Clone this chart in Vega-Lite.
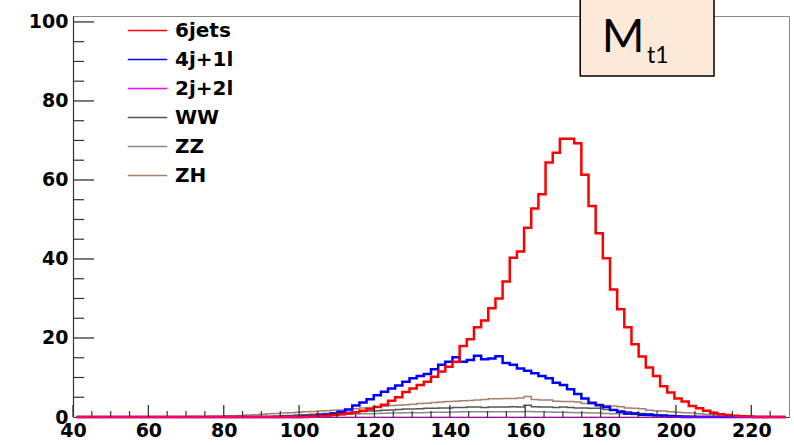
{
"$schema":"https://vega.github.io/schema/vega-lite/v6.json",
"width":716,"height":401,
"autosize":"none",
"padding":{"left":73,"top":16,"right":5,"bottom":28},
"background":"white",
"config":{"view":{"stroke":"#888","strokeWidth":1},"axis":{"grid":false}},
"data":{"values":[
{"x":40.95,"6jets":0,"4j+1l":0,"2j+2l":0,"WW":0,"ZZ":0,"ZH":0},
{"x":42.85,"6jets":0,"4j+1l":0,"2j+2l":0,"WW":0,"ZZ":0,"ZH":0},
{"x":44.75,"6jets":0,"4j+1l":0,"2j+2l":0,"WW":0,"ZZ":0,"ZH":0},
{"x":46.65,"6jets":0,"4j+1l":0,"2j+2l":0,"WW":0,"ZZ":0,"ZH":0},
{"x":48.55,"6jets":0,"4j+1l":0,"2j+2l":0,"WW":0,"ZZ":0,"ZH":0},
{"x":50.45,"6jets":0,"4j+1l":0,"2j+2l":0,"WW":0,"ZZ":0,"ZH":0},
{"x":52.35,"6jets":0,"4j+1l":0,"2j+2l":0,"WW":0,"ZZ":0,"ZH":0},
{"x":54.25,"6jets":0,"4j+1l":0,"2j+2l":0,"WW":0,"ZZ":0,"ZH":0},
{"x":56.15,"6jets":0,"4j+1l":0,"2j+2l":0,"WW":0,"ZZ":0,"ZH":0},
{"x":58.05,"6jets":0,"4j+1l":0,"2j+2l":0,"WW":0,"ZZ":0,"ZH":0},
{"x":59.95,"6jets":0,"4j+1l":0,"2j+2l":0,"WW":0,"ZZ":0,"ZH":0},
{"x":61.85,"6jets":0,"4j+1l":0,"2j+2l":0,"WW":0,"ZZ":0,"ZH":0},
{"x":63.75,"6jets":0,"4j+1l":0,"2j+2l":0,"WW":0,"ZZ":0,"ZH":0},
{"x":65.65,"6jets":0,"4j+1l":0,"2j+2l":0,"WW":0,"ZZ":0,"ZH":0},
{"x":67.55,"6jets":0,"4j+1l":0,"2j+2l":0,"WW":0,"ZZ":0,"ZH":0},
{"x":69.45,"6jets":0,"4j+1l":0,"2j+2l":0,"WW":0,"ZZ":0,"ZH":0},
{"x":71.35,"6jets":0,"4j+1l":0,"2j+2l":0,"WW":0,"ZZ":0,"ZH":0.1},
{"x":73.25,"6jets":0,"4j+1l":0,"2j+2l":0,"WW":0,"ZZ":0,"ZH":0.1},
{"x":75.15,"6jets":0,"4j+1l":0,"2j+2l":0,"WW":0,"ZZ":0,"ZH":0.15},
{"x":77.05,"6jets":0,"4j+1l":0,"2j+2l":0,"WW":0,"ZZ":0,"ZH":0.2},
{"x":78.95,"6jets":0,"4j+1l":0,"2j+2l":0,"WW":0,"ZZ":0,"ZH":0.2},
{"x":80.85,"6jets":0,"4j+1l":0,"2j+2l":0,"WW":0,"ZZ":0,"ZH":0.3},
{"x":82.75,"6jets":0,"4j+1l":0,"2j+2l":0,"WW":0,"ZZ":0,"ZH":0.3},
{"x":84.65,"6jets":0,"4j+1l":0,"2j+2l":0,"WW":0,"ZZ":0,"ZH":0.4},
{"x":86.55,"6jets":0,"4j+1l":0,"2j+2l":0,"WW":0,"ZZ":0,"ZH":0.5},
{"x":88.45,"6jets":0,"4j+1l":0,"2j+2l":0,"WW":0,"ZZ":0,"ZH":0.6},
{"x":90.35,"6jets":0,"4j+1l":0,"2j+2l":0,"WW":0.1,"ZZ":0,"ZH":0.7},
{"x":92.25,"6jets":0,"4j+1l":0,"2j+2l":0,"WW":0.15,"ZZ":0,"ZH":0.8},
{"x":94.15,"6jets":0,"4j+1l":0,"2j+2l":0,"WW":0.2,"ZZ":0.1,"ZH":0.9},
{"x":96.05,"6jets":0,"4j+1l":0,"2j+2l":0,"WW":0.3,"ZZ":0.15,"ZH":1.0},
{"x":97.95,"6jets":0,"4j+1l":0,"2j+2l":0,"WW":0.4,"ZZ":0.2,"ZH":1.1},
{"x":99.85,"6jets":0,"4j+1l":0,"2j+2l":0,"WW":0.5,"ZZ":0.25,"ZH":1.2},
{"x":101.75,"6jets":0,"4j+1l":0.1,"2j+2l":0,"WW":0.6,"ZZ":0.3,"ZH":1.3},
{"x":103.65,"6jets":0.1,"4j+1l":0.2,"2j+2l":0,"WW":0.7,"ZZ":0.35,"ZH":1.4},
{"x":105.55,"6jets":0.2,"4j+1l":0.4,"2j+2l":0,"WW":0.8,"ZZ":0.4,"ZH":1.5},
{"x":107.45,"6jets":0.3,"4j+1l":0.6,"2j+2l":0,"WW":0.9,"ZZ":0.5,"ZH":1.6},
{"x":109.35,"6jets":0.5,"4j+1l":0.9,"2j+2l":0,"WW":1.0,"ZZ":0.55,"ZH":1.7},
{"x":111.25,"6jets":0.7,"4j+1l":1.3,"2j+2l":0,"WW":1.1,"ZZ":0.6,"ZH":1.8},
{"x":113.15,"6jets":0.9,"4j+1l":1.9,"2j+2l":0,"WW":1.2,"ZZ":0.7,"ZH":1.9},
{"x":115.05,"6jets":1.2,"4j+1l":2.9,"2j+2l":0,"WW":1.3,"ZZ":0.75,"ZH":2.1},
{"x":116.95,"6jets":1.6,"4j+1l":3.7,"2j+2l":0,"WW":1.4,"ZZ":0.8,"ZH":2.3},
{"x":118.85,"6jets":2.0,"4j+1l":4.5,"2j+2l":0,"WW":1.5,"ZZ":0.85,"ZH":2.4},
{"x":120.75,"6jets":2.5,"4j+1l":5.5,"2j+2l":0,"WW":1.6,"ZZ":0.9,"ZH":2.6},
{"x":122.65,"6jets":3.1,"4j+1l":6.4,"2j+2l":0,"WW":1.7,"ZZ":0.95,"ZH":2.7},
{"x":124.55,"6jets":4.1,"4j+1l":7.2,"2j+2l":0,"WW":1.8,"ZZ":1.0,"ZH":2.9},
{"x":126.45,"6jets":5.0,"4j+1l":8.0,"2j+2l":0,"WW":1.9,"ZZ":1.0,"ZH":3.0},
{"x":128.35,"6jets":6.3,"4j+1l":8.9,"2j+2l":0,"WW":2.0,"ZZ":1.05,"ZH":3.1},
{"x":130.25,"6jets":7.2,"4j+1l":9.8,"2j+2l":0,"WW":2.0,"ZZ":1.1,"ZH":3.2},
{"x":132.15,"6jets":8.1,"4j+1l":10.4,"2j+2l":0,"WW":2.1,"ZZ":1.1,"ZH":3.4},
{"x":134.05,"6jets":8.9,"4j+1l":10.9,"2j+2l":0,"WW":2.2,"ZZ":1.15,"ZH":3.5},
{"x":135.95,"6jets":10.2,"4j+1l":12.1,"2j+2l":0,"WW":2.2,"ZZ":1.2,"ZH":3.7},
{"x":137.85,"6jets":11.5,"4j+1l":13.2,"2j+2l":0,"WW":2.3,"ZZ":1.2,"ZH":3.8},
{"x":139.75,"6jets":12.7,"4j+1l":14.0,"2j+2l":0,"WW":2.3,"ZZ":1.2,"ZH":3.9},
{"x":141.65,"6jets":14.0,"4j+1l":15.1,"2j+2l":0,"WW":2.4,"ZZ":1.25,"ZH":4.0},
{"x":143.55,"6jets":18.0,"4j+1l":14.0,"2j+2l":0,"WW":2.4,"ZZ":1.3,"ZH":4.1},
{"x":145.45,"6jets":19.7,"4j+1l":14.4,"2j+2l":0,"WW":2.5,"ZZ":1.3,"ZH":4.2},
{"x":147.35,"6jets":22.7,"4j+1l":15.5,"2j+2l":0,"WW":2.5,"ZZ":1.3,"ZH":4.3},
{"x":149.25,"6jets":24.4,"4j+1l":14.6,"2j+2l":0,"WW":2.4,"ZZ":1.3,"ZH":4.4},
{"x":151.15,"6jets":27.5,"4j+1l":14.8,"2j+2l":0,"WW":2.5,"ZZ":1.35,"ZH":4.6},
{"x":153.05,"6jets":30.0,"4j+1l":15.4,"2j+2l":0,"WW":2.5,"ZZ":1.3,"ZH":4.6},
{"x":154.95,"6jets":34.3,"4j+1l":13.7,"2j+2l":0,"WW":2.5,"ZZ":1.3,"ZH":4.7},
{"x":156.85,"6jets":40.3,"4j+1l":13.2,"2j+2l":0,"WW":2.6,"ZZ":1.3,"ZH":4.7},
{"x":158.75,"6jets":41.9,"4j+1l":12.3,"2j+2l":0,"WW":2.5,"ZZ":1.3,"ZH":4.8},
{"x":160.65,"6jets":47.9,"4j+1l":11.7,"2j+2l":0,"WW":3.0,"ZZ":1.4,"ZH":5.2},
{"x":162.55,"6jets":52.8,"4j+1l":11.1,"2j+2l":0,"WW":2.6,"ZZ":1.3,"ZH":4.4},
{"x":164.45,"6jets":56.4,"4j+1l":10.4,"2j+2l":0,"WW":2.5,"ZZ":1.3,"ZH":4.3},
{"x":166.35,"6jets":64.4,"4j+1l":9.8,"2j+2l":0,"WW":2.5,"ZZ":1.25,"ZH":4.3},
{"x":168.25,"6jets":66.9,"4j+1l":8.7,"2j+2l":0,"WW":2.4,"ZZ":1.2,"ZH":4.0},
{"x":170.15,"6jets":70.4,"4j+1l":8.1,"2j+2l":0,"WW":2.5,"ZZ":1.2,"ZH":3.9},
{"x":172.05,"6jets":70.4,"4j+1l":7.0,"2j+2l":0,"WW":2.4,"ZZ":1.15,"ZH":3.9},
{"x":173.95,"6jets":69.3,"4j+1l":5.8,"2j+2l":0,"WW":2.3,"ZZ":1.1,"ZH":3.8},
{"x":175.85,"6jets":61.3,"4j+1l":4.7,"2j+2l":0,"WW":2.3,"ZZ":1.1,"ZH":3.4},
{"x":177.75,"6jets":53.4,"4j+1l":3.6,"2j+2l":0,"WW":2.2,"ZZ":1.0,"ZH":3.3},
{"x":179.65,"6jets":46.5,"4j+1l":3.0,"2j+2l":0,"WW":2.2,"ZZ":1.0,"ZH":3.2},
{"x":181.55,"6jets":40.2,"4j+1l":2.5,"2j+2l":0,"WW":1.9,"ZZ":0.9,"ZH":2.9},
{"x":183.45,"6jets":32.3,"4j+1l":1.8,"2j+2l":0,"WW":1.7,"ZZ":0.85,"ZH":2.8},
{"x":185.35,"6jets":27.3,"4j+1l":1.3,"2j+2l":0,"WW":1.5,"ZZ":0.8,"ZH":2.6},
{"x":187.25,"6jets":22.7,"4j+1l":0.9,"2j+2l":0,"WW":1.3,"ZZ":0.7,"ZH":2.3},
{"x":189.15,"6jets":18.4,"4j+1l":0.8,"2j+2l":0,"WW":1.1,"ZZ":0.65,"ZH":2.2},
{"x":191.05,"6jets":15.3,"4j+1l":0.6,"2j+2l":0,"WW":0.9,"ZZ":0.6,"ZH":2.1},
{"x":192.95,"6jets":12.5,"4j+1l":0.5,"2j+2l":0,"WW":0.8,"ZZ":0.5,"ZH":1.7},
{"x":194.85,"6jets":10.4,"4j+1l":0.4,"2j+2l":0,"WW":0.6,"ZZ":0.45,"ZH":1.6},
{"x":196.75,"6jets":7.8,"4j+1l":0.3,"2j+2l":0,"WW":0.5,"ZZ":0.4,"ZH":1.5},
{"x":198.65,"6jets":6.2,"4j+1l":0.2,"2j+2l":0,"WW":0.4,"ZZ":0.35,"ZH":1.3},
{"x":200.55,"6jets":4.7,"4j+1l":0.1,"2j+2l":0,"WW":0.3,"ZZ":0.3,"ZH":1.2},
{"x":202.45,"6jets":3.9,"4j+1l":0,"2j+2l":0,"WW":0.25,"ZZ":0.25,"ZH":1.1},
{"x":204.35,"6jets":2.8,"4j+1l":0,"2j+2l":0,"WW":0.2,"ZZ":0.2,"ZH":1.0},
{"x":206.25,"6jets":2.2,"4j+1l":0,"2j+2l":0,"WW":0.15,"ZZ":0.15,"ZH":0.8},
{"x":208.15,"6jets":1.6,"4j+1l":0,"2j+2l":0,"WW":0.1,"ZZ":0.1,"ZH":0.7},
{"x":210.05,"6jets":1.1,"4j+1l":0,"2j+2l":0,"WW":0.05,"ZZ":0.1,"ZH":0.6},
{"x":211.95,"6jets":0.7,"4j+1l":0,"2j+2l":0,"WW":0,"ZZ":0.05,"ZH":0.5},
{"x":213.85,"6jets":0.5,"4j+1l":0,"2j+2l":0,"WW":0,"ZZ":0,"ZH":0.4},
{"x":215.75,"6jets":0.3,"4j+1l":0,"2j+2l":0,"WW":0,"ZZ":0,"ZH":0.3},
{"x":217.65,"6jets":0.2,"4j+1l":0,"2j+2l":0,"WW":0,"ZZ":0,"ZH":0.25},
{"x":219.55,"6jets":0.1,"4j+1l":0,"2j+2l":0,"WW":0,"ZZ":0,"ZH":0.2},
{"x":221.45,"6jets":0,"4j+1l":0,"2j+2l":0,"WW":0,"ZZ":0,"ZH":0.15},
{"x":223.35,"6jets":0,"4j+1l":0,"2j+2l":0,"WW":0,"ZZ":0,"ZH":0.1},
{"x":225.25,"6jets":0,"4j+1l":0,"2j+2l":0,"WW":0,"ZZ":0,"ZH":0.05},
{"x":227.15,"6jets":0,"4j+1l":0,"2j+2l":0,"WW":0,"ZZ":0,"ZH":0},
{"x":229.05,"6jets":0,"4j+1l":0,"2j+2l":0,"WW":0,"ZZ":0,"ZH":0}
]},
"transform":[{"fold":["6jets","4j+1l","2j+2l","WW","ZZ","ZH"],"as":["key","v"]}],
"resolve":{"axis":{"x":"independent","y":"independent"}},
"layer":[
{"transform":[{"filter":{"field":"key","equal":"ZH"}}],
 "mark":{"type":"line","interpolate":"step","strokeWidth":1.5},
 "encoding":{
  "x":{"field":"x","type":"quantitative","scale":{"domain":[40,230],"nice":false,"zero":false},
   "axis":{"orient":"bottom","title":null,"values":[40,60,80,100,120,140,160,180,200,220],"ticks":false,"domain":true,"domainColor":"#333","domainWidth":1.2,"labelFont":"DejaVu Sans","labelFontWeight":"bold","labelFontSize":19,"labelColor":"#000","labelPadding":4,"labelFlush":false,"labelOverlap":false}},
  "y":{"field":"v","type":"quantitative","scale":{"domain":[0,101.5],"nice":false,"zero":true},
   "axis":{"orient":"left","title":null,"values":[0,20,40,60,80,100],"ticks":false,"domain":true,"domainColor":"#333","domainWidth":1.2,"labelFont":"DejaVu Sans","labelFontWeight":"bold","labelFontSize":19,"labelColor":"#000","labelPadding":5,"labelFlush":false,"labelOverlap":false}},
  "color":{"field":"key","type":"nominal",
   "scale":{"domain":["6jets","4j+1l","2j+2l","WW","ZZ","ZH"],"range":["#ff0000","#0000ff","#ff00ff","#555555","#8a8a8a","#a4806f"]},
   "legend":{"orient":"none","legendX":54,"legendY":0,"title":null,"padding":0,"symbolType":"stroke","symbolSize":1560,"symbolStrokeWidth":1.5,"labelFont":"DejaVu Sans","labelFontWeight":"bold","labelFontSize":20,"labelColor":"#000","labelOffset":7,"rowPadding":0,"clipHeight":29}}
 }},
{"transform":[{"filter":{"field":"key","equal":"ZZ"}}],
 "mark":{"type":"line","interpolate":"step","strokeWidth":1.5},
 "encoding":{"x":{"field":"x","type":"quantitative","axis":null},"y":{"field":"v","type":"quantitative","axis":null},"color":{"field":"key","type":"nominal","legend":null}}},
{"transform":[{"filter":{"field":"key","equal":"WW"}}],
 "mark":{"type":"line","interpolate":"step","strokeWidth":1.5},
 "encoding":{"x":{"field":"x","type":"quantitative","axis":null},"y":{"field":"v","type":"quantitative","axis":null},"color":{"field":"key","type":"nominal","legend":null}}},
{"transform":[{"filter":{"field":"key","equal":"4j+1l"}}],
 "mark":{"type":"line","interpolate":"step","strokeWidth":2.5},
 "encoding":{"x":{"field":"x","type":"quantitative","axis":null},"y":{"field":"v","type":"quantitative","axis":null},"color":{"field":"key","type":"nominal","legend":null}}},
{"transform":[{"filter":{"field":"key","equal":"6jets"}}],
 "mark":{"type":"line","interpolate":"step","strokeWidth":2.5},
 "encoding":{"x":{"field":"x","type":"quantitative","axis":null},"y":{"field":"v","type":"quantitative","axis":null},"color":{"field":"key","type":"nominal","legend":null}}},
{"transform":[{"filter":{"field":"key","equal":"2j+2l"}}],
 "mark":{"type":"line","interpolate":"step","strokeWidth":1.2,"opacity":0.8},
 "encoding":{"x":{"field":"x","type":"quantitative","axis":null},"y":{"field":"v","type":"quantitative","axis":null},"color":{"field":"key","type":"nominal","legend":null}}},
{"data":{"values":[{"t":40},{"t":60},{"t":80},{"t":100},{"t":120},{"t":140},{"t":160},{"t":180},{"t":200},{"t":220}]},
 "mark":{"type":"rule","color":"#333","strokeWidth":1.3},
 "encoding":{"x":{"field":"t","type":"quantitative","axis":null},"y":{"datum":0,"type":"quantitative","axis":null},"y2":{"datum":3.04}}},
{"data":{"values":[{"t":45},{"t":50},{"t":55},{"t":65},{"t":70},{"t":75},{"t":85},{"t":90},{"t":95},{"t":105},{"t":110},{"t":115},{"t":125},{"t":130},{"t":135},{"t":145},{"t":150},{"t":155},{"t":165},{"t":170},{"t":175},{"t":185},{"t":190},{"t":195},{"t":205},{"t":210},{"t":215},{"t":225}]},
 "mark":{"type":"rule","color":"#333","strokeWidth":1.2},
 "encoding":{"x":{"field":"t","type":"quantitative","axis":null},"y":{"datum":0,"type":"quantitative","axis":null},"y2":{"datum":1.52}}},
{"data":{"values":[{"t":20},{"t":40},{"t":60},{"t":80},{"t":100}]},
 "mark":{"type":"rule","color":"#333","strokeWidth":1.3},
 "encoding":{"y":{"field":"t","type":"quantitative","axis":null},"x":{"datum":40,"type":"quantitative","axis":null},"x2":{"datum":45.57}}},
{"data":{"values":[{"t":5},{"t":10},{"t":15},{"t":25},{"t":30},{"t":35},{"t":45},{"t":50},{"t":55},{"t":65},{"t":70},{"t":75},{"t":85},{"t":90},{"t":95}]},
 "mark":{"type":"rule","color":"#333","strokeWidth":1.2},
 "encoding":{"y":{"field":"t","type":"quantitative","axis":null},"x":{"datum":40,"type":"quantitative","axis":null},"x2":{"datum":42.92}}},
{"data":{"values":[{}]},
 "mark":{"type":"rect","fill":"#fde9d9","stroke":"#000","strokeWidth":1.5},
 "encoding":{"x":{"datum":174.6,"type":"quantitative","axis":null},"x2":{"datum":210.1},"y":{"datum":86.3,"type":"quantitative","axis":null},"y2":{"datum":112}}},
{"data":{"values":[{}]},
 "mark":{"type":"text","text":"M","font":"Lato","fontSize":46,"align":"center","baseline":"alphabetic","color":"#000"},
 "encoding":{"x":{"datum":186.0,"type":"quantitative","axis":null},"y":{"datum":92.4,"type":"quantitative","axis":null}}},
{"data":{"values":[{}]},
 "mark":{"type":"text","text":"t1","font":"Lato","fontSize":23,"align":"left","baseline":"alphabetic","color":"#000"},
 "encoding":{"x":{"datum":192.3,"type":"quantitative","axis":null},"y":{"datum":89.6,"type":"quantitative","axis":null}}}
]
}
